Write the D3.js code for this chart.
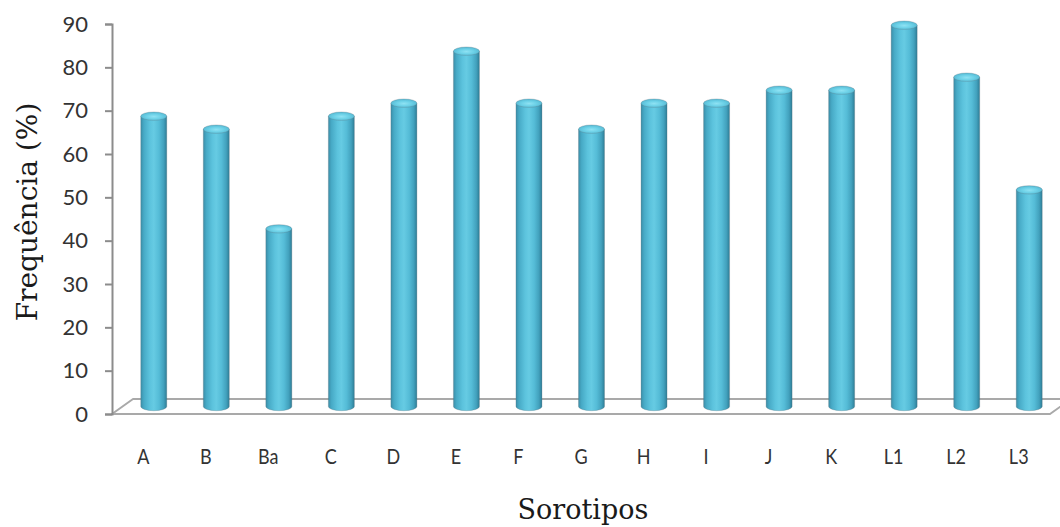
<!DOCTYPE html>
<html>
<head>
<meta charset="utf-8">
<script src="https://cdn.jsdelivr.net/npm/d3@7"></script>
<style>
  html, body { margin: 0; padding: 0; background: #fff; }
  svg { display: block; }
</style>
</head>
<body>
<div id="chart"></div>
<script>
// Dades: sorotipos i freqüència (%)
const categories = ['A', 'B', 'Ba', 'C', 'D', 'E', 'F', 'G', 'H', 'I', 'J', 'K', 'L1', 'L2', 'L3'];
const frequencies = [67, 64, 41, 67, 70, 82, 70, 64, 70, 70, 73, 73, 88, 76, 50];
const yTicks = [0, 10, 20, 30, 40, 50, 60, 70, 80, 90];
const xTitle = 'Sorotipos';
const yTitle = 'Frequência (%)';

const width = 1060;
const height = 527;
const plot = { left: 112, right: 1050, top: 24, bottom: 414 };
// profunditat del terra 3D
const depth = { dx: 21, dy: 15 };
const barR = 13;
const capRy = 4.2;

const svg = d3.select('#chart')
    .append('svg')
    .attr('width', width)
    .attr('height', height);

const defs = svg.append('defs');

const bodyGrad = defs.append('linearGradient')
    .attr('id', 'cyl-body')
    .attr('x1', '0%').attr('x2', '100%')
    .attr('y1', '0%').attr('y2', '0%');
[
    [0, '#3b8ea8'], [0.12, '#47aac6'], [0.35, '#5cc3dd'], [0.5, '#66cbe3'],
    [0.7, '#55bcd7'], [0.88, '#42a1bd'], [1, '#2e7d96']
].forEach(([o, c]) => bodyGrad.append('stop').attr('offset', o).attr('stop-color', c));

const capGrad = defs.append('radialGradient')
    .attr('id', 'cyl-cap')
    .attr('cx', '50%').attr('cy', '55%').attr('r', '60%');
[
    [0, '#8fe2f3'], [0.45, '#6ed2e8'], [1, '#4fb4cf']
].forEach(([o, c]) => capGrad.append('stop').attr('offset', o).attr('stop-color', c));

// Escales
const x = d3.scaleBand()
    .domain(categories)
    .range([plot.left, plot.right])
    .padding(0);

const y = d3.scaleLinear()
    .domain([0, 90])
    .range([plot.bottom, plot.top]);

// Terra
const y0 = y(0);
svg.append('path')
    .attr('d', `M${plot.left},${y0} L${plot.right},${y0} L${plot.right + depth.dx},${y0 - depth.dy} L${plot.left + depth.dx},${y0 - depth.dy} Z`)
    .attr('fill', '#fff')
    .attr('stroke', '#a9a9a9')
    .attr('stroke-width', 2)
    .attr('stroke-linejoin', 'round');

// Cilindres
const data = categories.map((c, i) => ({ cat: c, value: frequencies[i] }));

const bars = svg.selectAll('.bar')
    .data(data)
    .enter()
    .append('g')
    .attr('class', 'bar')
    .attr('transform', d => `translate(${x(d.cat) + x.bandwidth() / 2 + depth.dx / 2},${-depth.dy / 2})`);

bars.append('path')
    .attr('d', d => {
        const yt = y(d.value);
        return `M${-barR},${yt} L${-barR},${y0} A${barR},${capRy} 0 0 0 ${barR},${y0} L${barR},${yt} Z`;
    })
    .attr('fill', 'url(#cyl-body)')
    .attr('stroke', 'rgba(90,110,120,0.35)')
    .attr('stroke-width', 0.8);

bars.append('ellipse')
    .attr('cx', 0)
    .attr('cy', d => y(d.value))
    .attr('rx', barR)
    .attr('ry', capRy)
    .attr('fill', 'url(#cyl-cap)')
    .attr('stroke', 'rgba(90,110,120,0.35)')
    .attr('stroke-width', 0.8);

// Eix Y
const yAxis = svg.append('g')
    .attr('transform', `translate(${plot.left},0)`)
    .call(d3.axisLeft(y).tickValues(yTicks).tickSize(7).tickPadding(17).tickFormat(d3.format('d')));

yAxis.select('.domain')
    .attr('stroke', '#8c8c8c')
    .attr('stroke-width', 2);
yAxis.selectAll('.tick line')
    .attr('stroke', '#8c8c8c')
    .attr('stroke-width', 2);
yAxis.selectAll('.tick text')
    .attr('fill', '#333')
    .style('font-family', 'Lato, "Open Sans", sans-serif')
    .style('font-size', '22px');

// Eix X (etiquetes)
const xAxis = svg.append('g')
    .attr('transform', `translate(0,${y0})`)
    .call(d3.axisBottom(x).tickSize(0).tickPadding(34));

xAxis.select('.domain').remove();
xAxis.selectAll('.tick text')
    .attr('fill', '#333')
    .attr('transform', 'scale(0.82,1)')
    .style('font-family', 'Lato, sans-serif')
    .style('font-size', '22px');

// Títols
svg.append('text')
    .attr('x', 583)
    .attr('y', 519)
    .attr('text-anchor', 'middle')
    .attr('fill', '#1a1a1a')
    .style('font-family', '"DejaVu Serif", serif')
    .style('font-size', '27px')
    .text(xTitle);

svg.append('text')
    .attr('transform', `translate(37,212) rotate(-90)`)
    .attr('text-anchor', 'middle')
    .attr('fill', '#1a1a1a')
    .style('font-family', '"DejaVu Serif", serif')
    .style('font-size', '28px')
    .text(yTitle);
</script>
</body>
</html>
